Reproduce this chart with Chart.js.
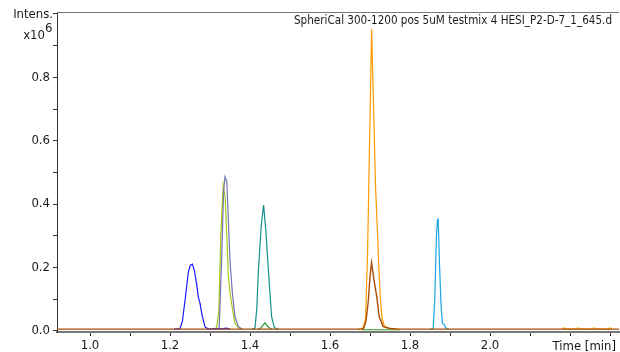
<!DOCTYPE html>
<html>
<head>
<meta charset="utf-8">
<script src="https://cdn.jsdelivr.net/npm/chart.js@4"></script>
<style>
  body { margin: 0; background: #fff; }
  #wrap { width: 620px; height: 352px; }
</style>
</head>
<body>
<div id="wrap"><canvas id="chart" width="620" height="352"></canvas></div>
<script>
// chromatogram traces, time in min, intensity in 10^6
const tStart = 0.9175;
const tEnd = 2.3225;

// brown trace also carries the baseline over the whole run
const brownTime = [tStart, 1.680, 1.684, 1.690, 1.696, 1.700, 1.704, 1.710, 1.717, 1.723, 1.733, 1.750, 1.770, tEnd];
const brownInt  = [0.005, 0.005, 0.007, 0.030, 0.097, 0.170, 0.215, 0.160, 0.107, 0.044, 0.013, 0.007, 0.005, 0.005];

const orangeTime = [1.670, 1.675, 1.683, 1.689, 1.694, 1.699, 1.704, 1.709, 1.714, 1.719, 1.722, 1.726, 1.730, 1.736, 1.745, 1.770];
const orangeInt  = [0.005, 0.005, 0.010, 0.040, 0.250, 0.600, 0.953, 0.700, 0.450, 0.300, 0.200, 0.100, 0.040, 0.015, 0.008, 0.005];

// small orange noise blips near the end of the run
const orangeNoiseTime = [2.180, 2.185, 2.190, 2.215, 2.220, 2.225, 2.255, 2.260, 2.265, 2.295, 2.300, 2.305];
const orangeNoiseInt  = [0.005, 0.009, 0.005, 0.005, 0.009, 0.005, 0.005, 0.009, 0.005, 0.005, 0.009, 0.005];

const blueTime = [1.210, 1.215, 1.225, 1.231, 1.238, 1.246, 1.251, 1.256, 1.261, 1.267, 1.271, 1.275, 1.280, 1.2875, 1.295, 1.330, 1.340, 1.350];
const blueInt  = [0.005, 0.005, 0.007, 0.030, 0.100, 0.186, 0.207, 0.210, 0.190, 0.144, 0.105, 0.087, 0.050, 0.012, 0.006, 0.006, 0.008, 0.005];

const limeTime = [1.308, 1.312, 1.317, 1.322, 1.327, 1.333, 1.338, 1.342, 1.346, 1.350, 1.354, 1.3625, 1.371, 1.380];
const limeInt  = [0.005, 0.005, 0.012, 0.060, 0.300, 0.460, 0.420, 0.300, 0.170, 0.120, 0.086, 0.023, 0.009, 0.005];

const slateTime = [1.314, 1.318, 1.323, 1.329, 1.334, 1.3375, 1.342, 1.346, 1.350, 1.356, 1.3625, 1.371, 1.380];
const slateInt  = [0.005, 0.005, 0.009, 0.220, 0.440, 0.486, 0.470, 0.350, 0.220, 0.118, 0.044, 0.013, 0.005];

const tealTime = [1.404, 1.408, 1.4125, 1.417, 1.421, 1.428, 1.434, 1.440, 1.446, 1.454, 1.461, 1.467, 1.472];
const tealInt  = [0.005, 0.005, 0.009, 0.070, 0.190, 0.330, 0.397, 0.310, 0.190, 0.044, 0.010, 0.006, 0.005];

const greenTime = [1.420, 1.424, 1.430, 1.4375, 1.444, 1.451, 1.456];
const greenInt  = [0.005, 0.005, 0.014, 0.025, 0.014, 0.006, 0.005];

const greenFlatTime = [1.680, 1.775];
const greenFlatInt  = [0.003, 0.003];

const cyanTime = [1.850, 1.855, 1.858, 1.862, 1.866, 1.869, 1.8705, 1.874, 1.878, 1.881, 1.885, 1.889, 1.893, 1.898];
const cyanInt  = [0.005, 0.005, 0.008, 0.100, 0.300, 0.352, 0.352, 0.200, 0.070, 0.023, 0.020, 0.010, 0.006, 0.005];

const xTickValues = [1.0, 1.1, 1.2, 1.3, 1.4, 1.5, 1.6, 1.7, 1.8, 1.9, 2.0, 2.1, 2.2, 2.3];
const xLabelValues = [1.0, 1.2, 1.4, 1.6, 1.8, 2.0];
const yTickValues = [0.0, 0.1, 0.2, 0.3, 0.4, 0.5, 0.6, 0.7, 0.8, 0.9, 1.0];
const yLabelValues = [0.0, 0.2, 0.4, 0.6, 0.8];

const sampleName = "SpheriCal 300-1200 pos 5uM testmix 4 HESI_P2-D-7_1_645.d";

const fontFamily = "'DejaVu Sans Condensed', 'DejaVu Sans', sans-serif";

function toPoints(ts, ys) {
  return ts.map((t, i) => ({ x: t, y: ys[i] }));
}

function trace(ts, ys, color, width = 1.2) {
  return {
    data: toPoints(ts, ys),
    borderColor: color,
    borderWidth: width,
    pointRadius: 0,
    fill: false,
    tension: 0,
  };
}

function hasValue(list, v) {
  return list.some((l) => Math.abs(l - v) < 1e-6);
}

const labelFont = { family: fontFamily, size: 13 };

// axis titles, top frame line and sample name
const textPlugin = {
  id: "texts",
  afterDraw(chart) {
    const ctx = chart.ctx;
    const area = chart.chartArea;
    ctx.save();
    ctx.strokeStyle = "#777";
    ctx.lineWidth = 1;
    ctx.beginPath();
    ctx.moveTo(area.left, area.top + 0.5);
    ctx.lineTo(area.right, area.top + 0.5);
    ctx.stroke();

    ctx.fillStyle = "#1a1a1a";
    ctx.textBaseline = "alphabetic";
    ctx.font = "13px " + fontFamily;
    ctx.textAlign = "right";
    ctx.fillText(sampleName, 612, 24, 318);

    ctx.fillText("Intens.", 53, 18);
    ctx.fillText("x10", 45, 39);
    ctx.textAlign = "left";
    ctx.fillText("6", 45, 32);

    ctx.textAlign = "right";
    ctx.fillText("Time [min]", 616, 350);
    ctx.restore();
  },
};

const ctx = document.getElementById("chart");
const chart = new Chart(ctx, {
  type: "line",
  data: {
    datasets: [
      trace(brownTime, brownInt, "#a84c08", 1.4),
      trace(orangeTime, orangeInt, "#ff9a00"),
      trace(orangeNoiseTime, orangeNoiseInt, "#ff9a00"),
      trace(blueTime, blueInt, "#1a1aff"),
      trace(slateTime, slateInt, "#7474b8"),
      trace(limeTime, limeInt, "#a4c814"),
      trace(tealTime, tealInt, "#14908c"),
      trace(greenTime, greenInt, "#2a9a2a"),
      trace(greenFlatTime, greenFlatInt, "#2a9a2a"),
      trace(cyanTime, cyanInt, "#1ca6e2"),
    ],
  },
  plugins: [textPlugin],
  options: {
    responsive: false,
    animation: false,
    layout: { padding: { top: 12, right: 1, left: 0, bottom: 0 } },
    plugins: { legend: { display: false }, tooltip: { enabled: false } },
    scales: {
      x: {
        type: "linear",
        min: tStart,
        max: tEnd,
        afterFit(scale) { scale.height = 20; },
        afterBuildTicks(scale) {
          scale.ticks = xTickValues.map((v) => ({ value: v }));
        },
        ticks: {
          autoSkip: false,
          maxRotation: 0,
          padding: 2,
          color: "#1a1a1a",
          font: labelFont,
          callback: (v) => (hasValue(xLabelValues, v) ? v.toFixed(1) : ""),
        },
        grid: { drawOnChartArea: false, drawTicks: true, tickLength: 4, color: "#333" },
        border: { display: true, color: "#777", width: 2 },
      },
      y: {
        type: "linear",
        min: -0.0041,
        max: 1.0063,
        afterFit(scale) { scale.width = 57; },
        afterBuildTicks(scale) {
          scale.ticks = yTickValues.map((v) => ({ value: v }));
        },
        ticks: {
          autoSkip: false,
          padding: 3,
          color: "#1a1a1a",
          font: labelFont,
          callback: (v) => (hasValue(yLabelValues, v) ? v.toFixed(1) : ""),
        },
        grid: { drawOnChartArea: false, drawTicks: true, tickLength: 4, color: "#333" },
        border: { display: true, color: "#333", width: 1 },
      },
    },
  },
});
</script>
</body>
</html>
